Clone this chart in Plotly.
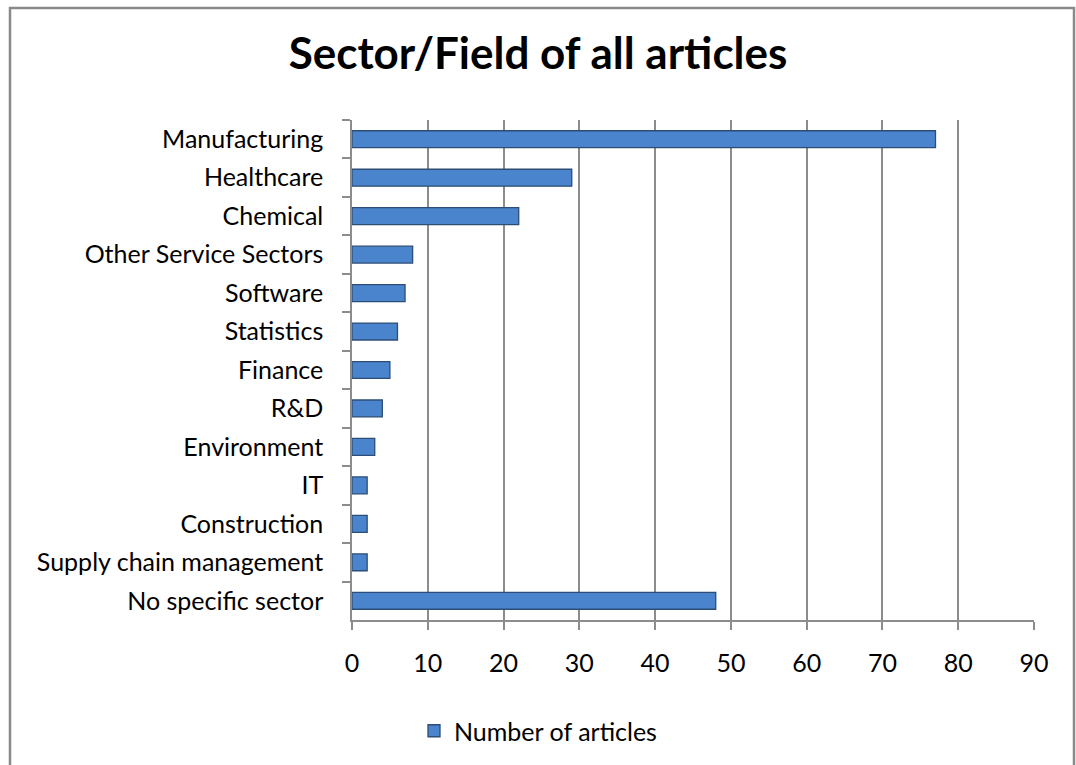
import plotly.graph_objects as go

categories = ["Manufacturing", "Healthcare", "Chemical", "Other Service Sectors", "Software",
              "Statistics", "Finance", "R&D", "Environment", "IT", "Construction",
              "Supply chain management", "No specific sector"]
values = [77, 29, 22, 8, 7, 6, 5, 4, 3, 2, 2, 2, 48]
x_ticks = [0, 10, 20, 30, 40, 50, 60, 70, 80, 90]
series_name = "Number of articles"

W, H = 1076, 765
L, R, T, B = 352, 42, 120, 145
pw, ph = W - L - R, H - T - B

def px_x(p):
    return (p - L) / pw

def px_y(p):
    return (H - B - p) / ph

FONT = "Lato, Open Sans, sans-serif"

fig = go.Figure()
fig.add_trace(go.Bar(
    x=values, y=categories, orientation="h", name=series_name,
    marker=dict(color="#4A84CC", line=dict(color="#2C4D75", width=1.3)),
    width=0.44, showlegend=True,
))

fig.update_layout(
    width=W, height=H,
    margin=dict(l=L, r=R, t=T, b=B),
    paper_bgcolor="white", plot_bgcolor="white",
    font=dict(family=FONT, size=25, color="black"),
    title=dict(text="<b>Sector/Field of all articles</b>", x=0.5, xref="container",
               xanchor="center", y=1 - 54 / H, yref="container", yanchor="middle",
               font=dict(size=44, family=FONT)),
    showlegend=True,
    legend=dict(orientation="h", x=0.5, xref="container", xanchor="center",
                y=(H - 731) / H, yref="container", yanchor="middle",
                font=dict(size=25), itemwidth=30),
)
fig.update_xaxes(
    range=[0, 90], tickvals=x_ticks, showgrid=True, gridcolor="#8C8C8C", gridwidth=1.5,
    showline=True, linecolor="#8C8C8C", linewidth=1.5, ticks="outside", ticklen=8,
    tickcolor="#8C8C8C", tickwidth=1.5, zeroline=False, ticklabelstandoff=12,
)
fig.update_yaxes(
    categoryorder="array", categoryarray=categories, autorange="reversed",
    showgrid=False, showline=True, linecolor="#8C8C8C", linewidth=1.5,
    ticks="outside", ticklen=8, tickcolor="#8C8C8C", tickwidth=1.5,
    tickson="boundaries", ticklabelstandoff=22,
)
# outer chart frame
fig.add_shape(type="rect", xref="paper", yref="paper",
              x0=px_x(10), x1=px_x(1074), y0=px_y(H + 20), y1=px_y(8),
              line=dict(color="#8A8A8A", width=2.5), fillcolor="rgba(0,0,0,0)", layer="below")

fig.write_html("out.html", config={"displayModeBar": False},
               post_script="document.body.style.margin='0';document.body.style.padding='0';")
